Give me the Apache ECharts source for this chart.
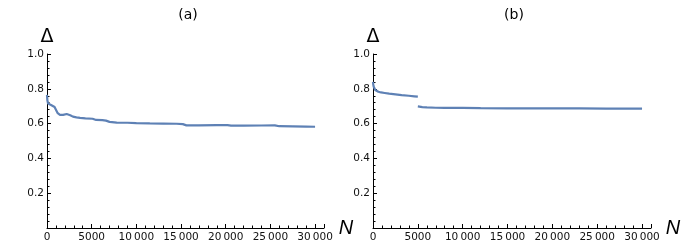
<!DOCTYPE html>
<html><head><meta charset="utf-8">
<script src="https://cdn.jsdelivr.net/npm/echarts@6/dist/echarts.min.js"></script>
<style>html,body{margin:0;padding:0;background:#fff}#c{width:689px;height:248px}</style>
</head><body><div id="c"></div>
<script>
// Panel (a)
const aN = [0, 40, 120, 250, 450, 650, 850, 1000, 1200, 1450, 1800, 2200, 2600, 2900, 3300, 3700, 4300, 5100, 5500, 6200, 6600, 7000, 7800, 9000, 10000, 11500, 13000, 14500, 15200, 15600, 17000, 19000, 20200, 20600, 22000, 24000, 25500, 26000, 27500, 29000, 30000];
const aD = [0.765, 0.735, 0.715, 0.71, 0.707, 0.703, 0.695, 0.68, 0.66, 0.65, 0.65, 0.655, 0.648, 0.64, 0.636, 0.633, 0.63, 0.628, 0.621, 0.62, 0.617, 0.61, 0.606, 0.605, 0.603, 0.601, 0.60, 0.599, 0.597, 0.59, 0.59, 0.591, 0.591, 0.588, 0.588, 0.589, 0.59, 0.585, 0.584, 0.583, 0.582];
// Panel (b), two segments (break at N = 5000)
const b1N = [0, 30, 80, 150, 250, 400, 600, 900, 1300, 1800, 2500, 3200, 4000, 4600, 5000];
const b1D = [0.84, 0.825, 0.812, 0.801, 0.793, 0.787, 0.783, 0.779, 0.776, 0.772, 0.768, 0.764, 0.76, 0.757, 0.755];
const b2N = [5000, 5500, 6000, 7000, 8000, 10000, 12000, 15000, 18000, 20000, 23000, 26000, 28000, 30000];
const b2D = [0.699, 0.695, 0.693, 0.691, 0.69, 0.69, 0.689, 0.688, 0.688, 0.687, 0.687, 0.686, 0.686, 0.686];
const xTicks = [0, 5000, 10000, 15000, 20000, 25000, 30000];
const yTicks = [0.2, 0.4, 0.6, 0.8, 1.0];
const titles = ['(a)', '(b)'];

const pair = (xs, ys) => xs.map((x, i) => [x, ys[i]]);
const fmtX = v => v >= 10000 ? String(Math.floor(v / 1000)) + '\u2009' + String(v % 1000).padStart(3, '0') : String(v);
const lineCol = '#5E81B5';
const txt = '#111';

function xAxis(idx) {
  return {
    type: 'value', gridIndex: idx, min: 0, max: 31000, interval: 5000,
    name: 'N', nameLocation: 'end', nameGap: 8,
    nameTextStyle: { fontFamily: 'Liberation Sans', fontStyle: 'italic', fontSize: 20, color: '#000', verticalAlign: 'middle', align: 'left' },
    axisLine: { show: true, onZero: false, lineStyle: { color: '#000', width: 1 } },
    axisTick: { show: true, inside: true, length: 4, lineStyle: { color: '#000' } },
    minorTick: { show: true, splitNumber: 5, length: 2.5, lineStyle: { color: '#000' } },
    splitLine: { show: false },
    axisLabel: { showMaxLabel: false, margin: 4, fontFamily: 'DejaVu Sans', fontSize: 10.5, color: txt, formatter: v => xTicks.includes(v) ? fmtX(v) : '' }
  };
}
function yAxis(idx) {
  return {
    type: 'value', gridIndex: idx, min: 0, max: 1, interval: 0.2,
    name: 'Δ', nameLocation: 'end', nameGap: 7,
    nameTextStyle: { fontFamily: 'DejaVu Sans', fontSize: 19, color: '#000', align: 'center' },
    axisLine: { show: true, onZero: false, lineStyle: { color: '#000', width: 1 } },
    axisTick: { show: true, inside: true, length: 4, lineStyle: { color: '#000' } },
    minorTick: { show: true, splitNumber: 5, length: 2.5, lineStyle: { color: '#000' } },
    splitLine: { show: false },
    axisLabel: { showMinLabel: false, margin: 3, fontFamily: 'DejaVu Sans', fontSize: 10.5, color: txt,
      formatter: v => { const t = yTicks.find(y => Math.abs(y - v) < 1e-9); return t === undefined ? '' : t.toFixed(1); } }
  };
}
const lineSeries = (xi, data) => ({
  type: 'line', xAxisIndex: xi, yAxisIndex: xi, data: data, showSymbol: false, symbol: 'none',
  lineStyle: { color: lineCol, width: 2.2 }, animation: false, silent: true
});

const chart = echarts.init(document.getElementById('c'), null, { renderer: 'canvas' });
chart.setOption({
  animation: false,
  grid: [
    { left: 47, top: 54, width: 277, height: 174 },
    { left: 373, top: 54, width: 278, height: 174 }
  ],
  xAxis: [xAxis(0), xAxis(1)],
  yAxis: [yAxis(0), yAxis(1)],
  series: [
    lineSeries(0, pair(aN, aD)),
    lineSeries(1, pair(b1N, b1D)),
    lineSeries(1, pair(b2N, b2D))
  ],
  graphic: [
    { type: 'text', x: 188, y: 15, style: { text: titles[0], font: '14px "DejaVu Sans"', fill: '#000', textAlign: 'center', textVerticalAlign: 'middle' } },
    { type: 'text', x: 514, y: 15, style: { text: titles[1], font: '14px "DejaVu Sans"', fill: '#000', textAlign: 'center', textVerticalAlign: 'middle' } }
  ]
});
</script></body></html>
